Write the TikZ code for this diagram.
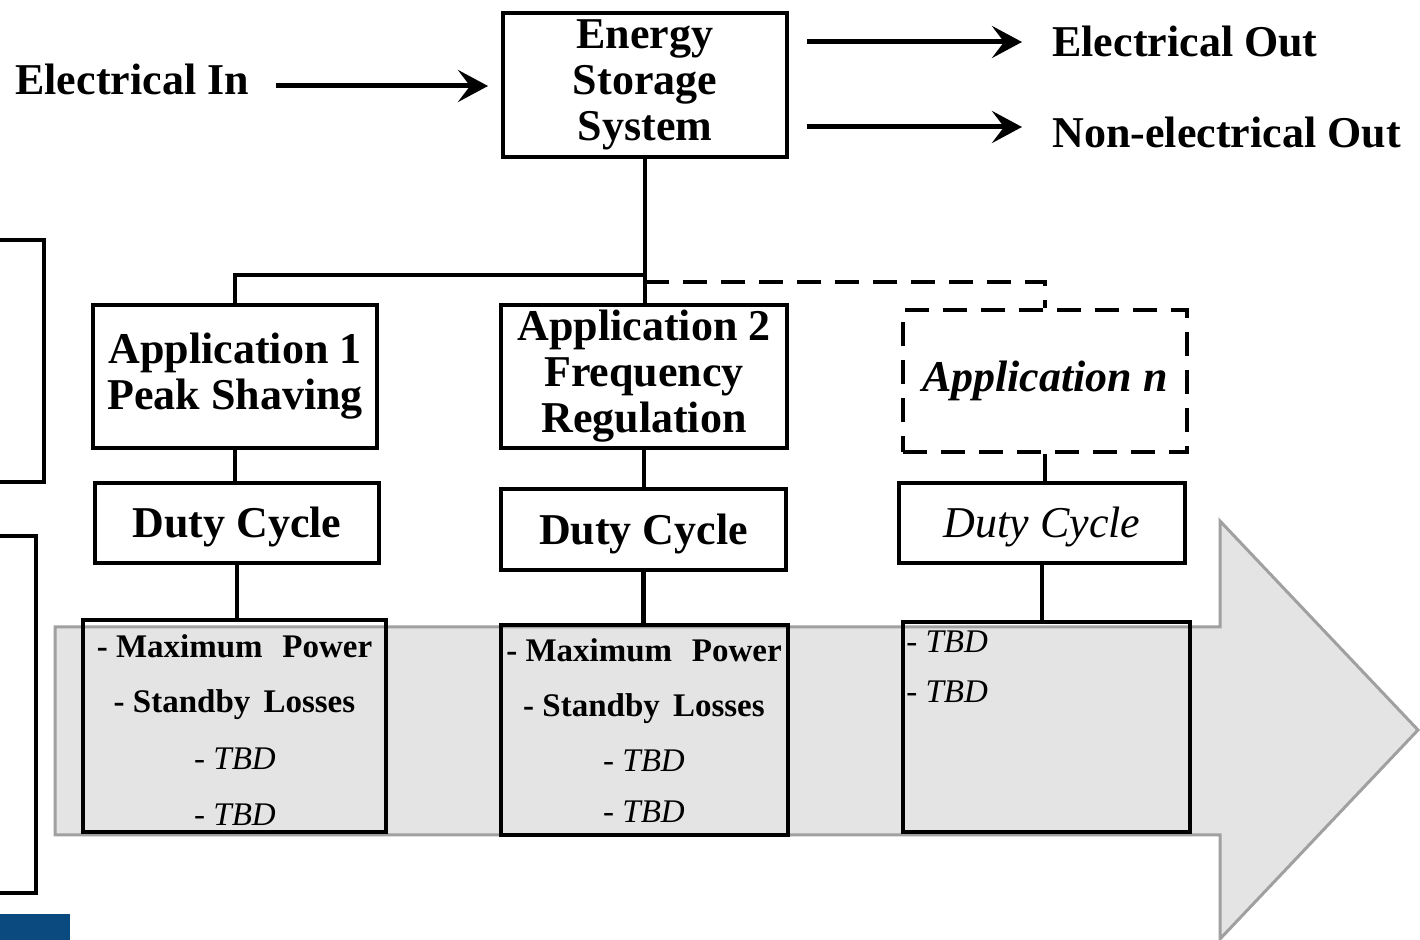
\documentclass[tikz,border=0pt]{standalone}
\usepackage{fontspec}
\setmainfont{Liberation Serif}
\usetikzlibrary{arrows.meta}
\definecolor{arrowfill}{HTML}{E4E4E4}
\definecolor{arrowline}{HTML}{A0A0A0}
\definecolor{barblue}{HTML}{0B4A7E}
\begin{document}
\begin{tikzpicture}[x=0.5pt,y=-0.5pt,
  box/.style={draw=black, line width=2pt, fill=white, inner sep=0pt, align=center, font=\bfseries\fontsize{22}{23}\selectfont},
  dbox/.style={box, dash pattern=on 12pt off 7pt},
  detail/.style={draw=black, line width=2pt, inner sep=0pt},
  item/.style={inner sep=0pt, font=\bfseries\fontsize{16.5}{18}\selectfont, anchor=base},
  tbd/.style={inner sep=0pt, font=\itshape\fontsize{16.5}{18}\selectfont, anchor=base},
  lbl/.style={inner sep=0pt, font=\bfseries\fontsize{22}{23}\selectfont, anchor=base west},
  conn/.style={line width=2.2pt},
  arr/.style={line width=2.5pt, -{Stealth[length=15pt,width=16pt,inset=6pt]}},
  dutytxt/.style={text height=15pt, text depth=0pt}
]
\useasboundingbox (0,0) rectangle (1420,940);

% big background arrow
\draw[draw=arrowline, fill=arrowfill, line width=1.5pt]
  (55,627) -- (1220,627) -- (1220,521) -- (1418,730) -- (1220,939) -- (1220,835) -- (55,835) -- cycle;

% partial boxes at the left edge and blue bar
\draw[line width=2pt] (0,240) -- (44,240) -- (44,482) -- (0,482);
\draw[line width=2pt] (0,536) -- (36,536) -- (36,893) -- (0,893);
\fill[barblue] (0,914) rectangle (70,940);

% detail boxes
\node[detail, minimum width=151.5pt, minimum height=106pt] (det1) at (234.5,726) {};
\node[detail, minimum width=143.5pt, minimum height=105pt] (det2) at (644.5,730) {};
\node[detail, minimum width=143.5pt, minimum height=105pt] (detn) at (1046.5,727) {};

% main boxes
\node[box, minimum width=142pt, minimum height=72pt] (ess) at (645,85) {Energy\\Storage\\System};
\node[box, minimum width=142pt, minimum height=71.5pt] (app1) at (235,376.5) {Application 1\\Peak Shaving};
\node[box, minimum width=143pt, minimum height=71.5pt] (app2) at (644,376.5) {Application 2\\Frequency\\Regulation};
\node[dbox, minimum width=142pt, minimum height=71pt, font=\bfseries\itshape\fontsize{22}{23}\selectfont] (appn) at (1045,381) {Application n};

\node[box, dutytxt, minimum width=142pt, minimum height=40pt] (duty1) at (237,523) {Duty Cycle};
\node[box, dutytxt, minimum width=142.5pt, minimum height=40.5pt] (duty2) at (643.5,529.5) {Duty Cycle};
\node[box, dutytxt, minimum width=143pt, minimum height=40pt, font=\itshape\fontsize{22}{23}\selectfont] (dutyn) at (1042,523) {Duty Cycle};

% connectors
\coordinate (j1) at (645,275);
\coordinate (j2) at (645,282);
\draw[conn] (ess.south) -- (ess.south |- app2.north);
\draw[conn] (j1) -| (app1.north);
\draw[conn, dash pattern=on 12pt off 7pt] (j2) -| (appn.north);
\draw[conn] (app1.south) -- (app1.south |- duty1.north);
\draw[conn] (duty1.south) -- (duty1.south |- det1.north);
\draw[conn] (app2.south) -- (app2.south |- duty2.north);
\draw[conn] (duty2.south) -- (duty2.south |- det2.north);
\draw[conn] (appn.south) -- (appn.south |- dutyn.north);
\draw[conn] (dutyn.south) -- (dutyn.south |- detn.north);

% list items
\node[item] (m1) at (234.5,658) {- Maximum\hspace{0.6em}Power};
\node[item] (s1) at (234.5,713) {- Standby\hspace{0.4em}Losses};
\node[tbd] (t1a) at (235,770) {- TBD};
\node[tbd] (t1b) at (235,826) {- TBD};
\node[item] (m2) at (644,662) {- Maximum\hspace{0.6em}Power};
\node[item] (s2) at (644,717) {- Standby\hspace{0.4em}Losses};
\node[tbd] (t2a) at (644,772) {- TBD};
\node[tbd] (t2b) at (644,823) {- TBD};
\node[tbd, anchor=base west] (tna) at (906,653) {- TBD};
\node[tbd, anchor=base west] (tnb) at (906,703) {- TBD};

% labels and arrows
\node[lbl] (ein) at (15,95) {Electrical In};
\node[lbl] (eout) at (1052,57) {Electrical Out};
\node[lbl] (neout) at (1052,148) {Non-electrical Out};
\coordinate (inS) at (275,86);
\coordinate (o1) at (1022,42);
\coordinate (o2) at (1022,127);
\draw[arr, shorten <=13.5pt, shorten >=6.5pt] (inS -| ein.east) -- (inS -| ess.west);
\draw[arr, shorten <=9pt, shorten >=15pt] (o1 -| ess.east) -- (o1 -| eout.west);
\draw[arr, shorten <=9pt, shorten >=15pt] (o2 -| ess.east) -- (o2 -| neout.west);
\end{tikzpicture}
\end{document}
